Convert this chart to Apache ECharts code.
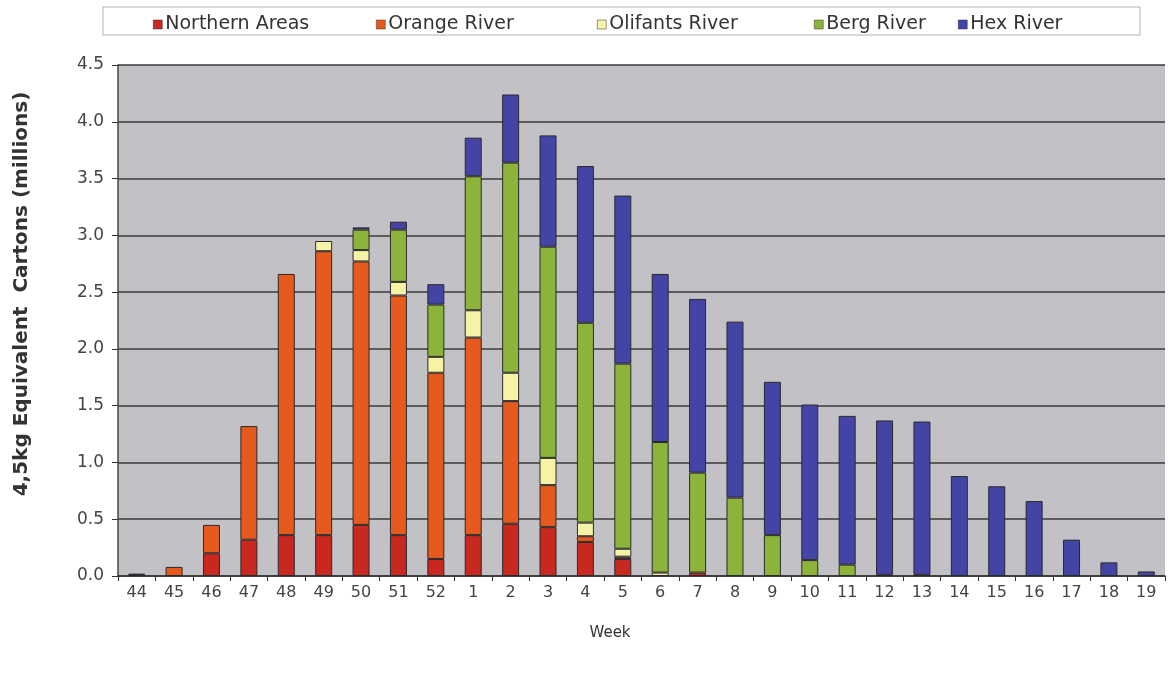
<!DOCTYPE html>
<html>
<head>
<meta charset="utf-8">
<script src="https://cdn.jsdelivr.net/npm/echarts@6/dist/echarts.min.js"></script>
<style>
  html, body { margin: 0; padding: 0; background: #ffffff; }
  #chart { width: 1173px; height: 675px; }
</style>
</head>
<body>
<div id="chart"></div>
<script>
// Weekly shipments by production region, 4,5kg equivalent cartons (millions)
const weeks = ['44','45','46','47','48','49','50','51','52','1','2','3','4','5','6','7','8','9','10','11','12','13','14','15','16','17','18','19'];
const northernAreas = [0.01,0,0.20,0.32,0.36,0.36,0.45,0.36,0.15,0.36,0.46,0.43,0.30,0.15,0,0.03,0,0,0,0,0,0,0,0,0,0,0,0];
const orangeRiver   = [0.01,0.08,0.25,1.00,2.30,2.50,2.32,2.11,1.64,1.74,1.08,0.37,0.05,0.02,0,0,0,0,0,0,0,0,0,0,0,0,0,0];
const olifantsRiver = [0,0,0,0,0,0.09,0.10,0.12,0.14,0.24,0.25,0.24,0.12,0.07,0.03,0,0,0,0,0,0,0,0,0,0,0,0,0];
const bergRiver     = [0,0,0,0,0,0,0.18,0.46,0.46,1.18,1.85,1.86,1.76,1.63,1.15,0.88,0.69,0.36,0.14,0.10,0.01,0.01,0,0,0,0,0,0];
const hexRiver      = [0,0,0,0,0,0,0.02,0.07,0.18,0.34,0.60,0.98,1.38,1.48,1.48,1.53,1.55,1.35,1.37,1.31,1.36,1.35,0.88,0.79,0.66,0.32,0.12,0.04];
const yTicks = [0, 0.5, 1.0, 1.5, 2.0, 2.5, 3.0, 3.5, 4.0, 4.5];

const regions = [
  { name: 'Northern Areas', data: northernAreas, color: '#c8281f' },
  { name: 'Orange River',   data: orangeRiver,   color: '#e65a1e' },
  { name: 'Olifants River', data: olifantsRiver, color: '#f6f2a6' },
  { name: 'Berg River',     data: bergRiver,     color: '#8db43a' },
  { name: 'Hex River',      data: hexRiver,      color: '#4444a6' }
];

const FONT = '"DejaVu Sans", "Liberation Sans", Arial, sans-serif';
const legendLeft = [148, 371, 592, 809, 953];

const chart = echarts.init(document.getElementById('chart'), null, { renderer: 'canvas' });

chart.setOption({
  animation: false,
  backgroundColor: '#ffffff',
  graphic: [
    {
      // frame around the legend row
      type: 'rect',
      shape: { x: 103, y: 7, width: 1037, height: 28 },
      style: { fill: 'none', stroke: '#b0b0b0', lineWidth: 1 },
      silent: true
    },
    {
      // y-axis title
      type: 'text',
      x: 22, y: 294,
      rotation: Math.PI / 2,
      style: {
        text: '4,5kg Equivalent  Cartons (millions)',
        fontFamily: FONT, fontSize: 20, fontWeight: 'bold', fill: '#333',
        align: 'center', verticalAlign: 'middle'
      },
      silent: true
    },
    {
      // x-axis title
      type: 'text',
      x: 610, y: 633,
      style: {
        text: 'Week',
        fontFamily: FONT, fontSize: 15, fill: '#333',
        align: 'center', verticalAlign: 'middle'
      },
      silent: true
    }
  ],
  legend: regions.map((r, i) => ({
    data: [r.name],
    left: legendLeft[i],
    top: 10,
    itemWidth: 9,
    itemHeight: 9,
    icon: 'rect',
    itemStyle: { borderColor: '#333', borderWidth: 0.5 },
    textStyle: { fontFamily: FONT, fontSize: 19, color: '#333', padding: [0, 0, 0, -2] }
  })),
  grid: {
    left: 118, right: 8, top: 65, bottom: 99,
    show: true, backgroundColor: '#c2c1c6', borderWidth: 0
  },
  xAxis: {
    type: 'category',
    data: weeks,
    axisLine: { show: true, lineStyle: { color: '#333', width: 1.5 } },
    axisTick: { show: true, alignWithLabel: false, length: 5, lineStyle: { color: '#333' } },
    axisLabel: { interval: 0, fontFamily: FONT, fontSize: 16, color: '#444', margin: 9 }
  },
  yAxis: {
    type: 'value',
    min: yTicks[0],
    max: yTicks[yTicks.length - 1],
    interval: 0.5,
    axisLine: { show: true, lineStyle: { color: '#444', width: 1.5 } },
    axisTick: { show: true, inside: false, length: 6, lineStyle: { color: '#333' } },
    axisLabel: {
      fontFamily: FONT, fontSize: 17, color: '#444', margin: 14,
      formatter: v => v.toFixed(1)
    },
    splitLine: { show: true, lineStyle: { color: '#3a3a3a', width: 1.5 } }
  },
  series: regions.map(r => ({
    name: r.name,
    type: 'bar',
    stack: 'total',
    barWidth: 17,
    data: r.data.map(v => (v > 0 ? v : '-')),
    itemStyle: { color: r.color, borderColor: '#2a2a2a', borderWidth: 1 }
  }))
});
</script>
</body>
</html>
